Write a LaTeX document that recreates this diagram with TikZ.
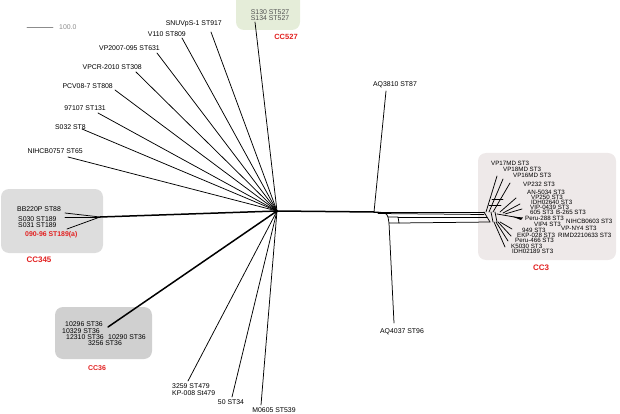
\documentclass[tikz,border=0pt]{standalone}
\usepackage{fontspec}
\setmainfont{Liberation Sans}
\definecolor{Gfill}{RGB}{229,237,217}
\definecolor{Lfill}{RGB}{221,221,221}
\definecolor{Dfill}{RGB}{208,208,208}
\definecolor{Pfill}{RGB}{238,233,233}
\definecolor{CCred}{RGB}{226,32,32}
\definecolor{Sgray}{RGB}{140,140,140}
\definecolor{Tgray}{RGB}{80,80,80}
\begin{document}
\begin{tikzpicture}[x=1pt,y=-1pt,line cap=round,line join=round,
  leaf/.style={inner sep=0pt,font=\fontsize{6.9}{7}\selectfont},
  small/.style={inner sep=0pt,anchor=west,font=\fontsize{6.2}{6.5}\selectfont},
  cc/.style={inner sep=0pt,text=CCred,font=\bfseries\fontsize{7.5}{8}\selectfont},
  branch/.style={line width=0.75pt},
  trunk/.style={line width=1.5pt},
  box/.style={rounded corners=8pt}]
\useasboundingbox (0,0) rectangle (620,414);
% cluster boxes
\fill[Gfill,box] (236,-8) rectangle (300,30);
\fill[Lfill,box] (1,189) rectangle (103,253);
\fill[Dfill,box] (55,307) rectangle (152,359);
\fill[Pfill,box] (478,153) rectangle (616,260);
% scale bar
\coordinate (sb1) at (27,27);
\coordinate (sb2) at (53,27);
\draw[Sgray,line width=0.6pt] (sb1) -- (sb2);
\node[leaf,text=Sgray,anchor=west] (sbl) at (59,27) {100.0};
% centre of the network
\coordinate (hub) at (277,211);
% upper-left fan
\node[leaf,anchor=east] (l917) at (222,24) {SNUVpS-1 ST917};
\node[leaf,anchor=east] (l809) at (186,34) {V110 ST809};
\node[leaf,anchor=east] (l631) at (160,48) {VP2007-095 ST631};
\node[leaf,anchor=east] (l308) at (142,67) {VPCR-2010 ST308};
\node[leaf,anchor=east] (l808) at (113,86) {PCV08-7 ST808};
\node[leaf,anchor=east] (l131) at (106,108) {97107 ST131};
\node[leaf,anchor=east] (l8) at (86,127) {S032 ST8};
\node[leaf,anchor=east] (l65) at (83,151) {NIHCB0757 ST65};
\coordinate (e917) at (211,32);
\coordinate (e809) at (182,38);
\coordinate (e631) at (157,53);
\coordinate (e308) at (136,72);
\coordinate (e808) at (115,90);
\coordinate (e131) at (98,113);
\coordinate (e8) at (82,129);
\coordinate (e65) at (68,157);
\draw[branch] (hub) -- (e917);
\draw[branch] (hub) -- (e809);
\draw[branch] (hub) -- (e631);
\draw[branch] (hub) -- (e308);
\draw[branch] (hub) -- (e808);
\draw[branch] (hub) -- (e131);
\draw[branch] (hub) -- (e8);
\draw[branch] (hub) -- (e65);
% CC527
\node[leaf,text=Tgray] (l527a) at (270,12) {S130 ST527};
\node[leaf,text=Tgray] (l527b) at (270,18) {S134 ST527};
\node[cc] (cc527) at (286,37) {CC527};
\coordinate (e527) at (255,22);
\draw[branch] (hub) -- (e527);
% CC345
\node[leaf,anchor=west] (l88) at (17,209) {BB220P ST88};
\node[leaf,anchor=west] (l189) at (18,219) {S030 ST189};
\node[leaf,anchor=west] (l189b) at (18,225) {S031 ST189};
\node[leaf,anchor=west,text=CCred,font=\bfseries\fontsize{6.9}{7}\selectfont] (l189a) at (25,235) {090-96 ST189(a)};
\node[cc,font=\bfseries\fontsize{8}{8}\selectfont] (cc345) at (39,260) {CC345};
\coordinate (j345) at (100,217);
\coordinate (e88) at (65,213);
\coordinate (e189) at (65,217);
\coordinate (e189a) at (67,229);
\draw[branch] (e88) -- (j345);
\draw[branch] (e189) -- (j345);
\draw[branch] (e189a) -- (j345);
\draw[trunk] (j345) -- (hub);
% CC36
\node[leaf] (l10296) at (84,324) {10296 ST36};
\node[leaf] (l10329) at (81,331) {10329 ST36};
\node[leaf] (l12310) at (85,337) {12310 ST36};
\node[leaf] (l10290) at (127,337) {10290 ST36};
\node[leaf] (l3256) at (105,343) {3256 ST36};
\node[cc,font=\bfseries\fontsize{7}{7}\selectfont] (cc36) at (97,368) {CC36};
\coordinate (e36) at (108,327);
\draw[trunk] (hub) -- (e36);
% lower fan
\node[leaf,anchor=west] (l479) at (172,386) {3259 ST479};
\node[leaf,anchor=west] (l479b) at (172,393) {KP-008 St479};
\node[leaf] (l34) at (231,402) {50 ST34};
\node[leaf] (l539) at (274,410) {M0605 ST539};
\coordinate (e479) at (188,381);
\coordinate (e34) at (232,397);
\coordinate (e539) at (261,405);
\draw[branch] (hub) -- (e479);
\draw[branch] (hub) -- (e34);
\draw[branch] (hub) -- (e539);
% long branch to CC3
\node[leaf] (l87) at (395,85) {AQ3810 ST87};
\node[leaf] (l96) at (402,332) {AQ4037 ST96};
\coordinate (j87) at (374,212);
\coordinate (e87) at (386,91);
\coordinate (e96) at (394,323);
\coordinate (p1) at (388,217);
\coordinate (p2) at (389,223);
\coordinate (p3) at (398,217);
\coordinate (p4) at (399,223);
\coordinate (c3a) at (484,212);
\coordinate (c3b) at (487,217);
\coordinate (c3c) at (490,222);
\draw[trunk] (hub) -- (j87);
\draw[branch] (j87) -- (e87);
\draw[line width=1pt] (j87) -- (c3a);
\draw[branch] (j87) .. controls (384,212) and (387,213) .. (p1) -- (p2) -- (e96);
\draw[branch] (p1) -- (p3) -- (p4) -- (p2);
\draw[branch] (p3) -- (c3b);
\draw[branch] (p4) -- (c3c);
\draw[branch] (378,213.5) -- (484,214.5);
\draw[branch] (c3a) -- (c3c);
\draw[branch] (491,212) -- (493,222);
\draw[branch] (495,212) -- (497,222);
% CC3
\node[small] (v17) at (491,163) {VP17MD ST3};
\node[small] (v18) at (503,169) {VP18MD ST3};
\node[small] (v16) at (513,175) {VP16MD ST3};
\node[small] (v232) at (523,184) {VP232 ST3};
\node[small] (an) at (527,192) {AN-5034 ST3};
\node[small] (v250) at (531,197) {VP250 ST3};
\node[small] (i2640) at (531,202) {IDH02640 ST3};
\node[small] (vip) at (530,207.5) {VIP-0439 ST3};
\node[small] (s605) at (530,212.5) {605 ST3};
\node[small] (b265) at (556,212.5) {B-265 ST3};
\node[small] (pe288) at (525,218) {Peru-288 ST3};
\node[small] (ni603) at (566,221) {NIHCB0603 ST3};
\node[small] (vp4) at (534,224.5) {VIP4 ST3};
\node[small] (s949) at (522,230) {949 ST3};
\node[small] (ny4) at (561,228) {VP-NY4 ST3};
\node[small] (ekp) at (517,235) {EKP-028 ST3};
\node[small] (rimd) at (558,235) {RIMD2210633 ST3};
\node[small] (pe466) at (515,240.5) {Peru-466 ST3};
\node[small] (k5030) at (511,246) {K5030 ST3};
\node[small] (i2189) at (512,251) {IDH02189 ST3};
\node[cc,font=\bfseries\fontsize{8}{8}\selectfont] (cc3) at (541,268) {CC3};
\draw[branch] (486,212) -- (497,176);
\draw[branch] (489,212) -- (503,179);
\draw[branch] (493,212) -- (510,183);
\draw[branch] (489,205) -- (501,205);
\draw[branch] (492,199) -- (503,199);
\draw[branch] (500,212) -- (516,198);
\draw[branch] (503,213) -- (520,204);
\draw[branch] (505,214) -- (522,209);
\draw[branch] (497,214) -- (520,218);
\fill (512,216.5) -- (523,217.5) -- (521,220) -- cycle;
\draw[branch] (500,222) -- (512,229);
\draw[branch] (498,222) -- (511,236);
\draw[branch] (496,222) -- (508,241);
\draw[branch] (494,222) -- (505,247);
\end{tikzpicture}
\end{document}
